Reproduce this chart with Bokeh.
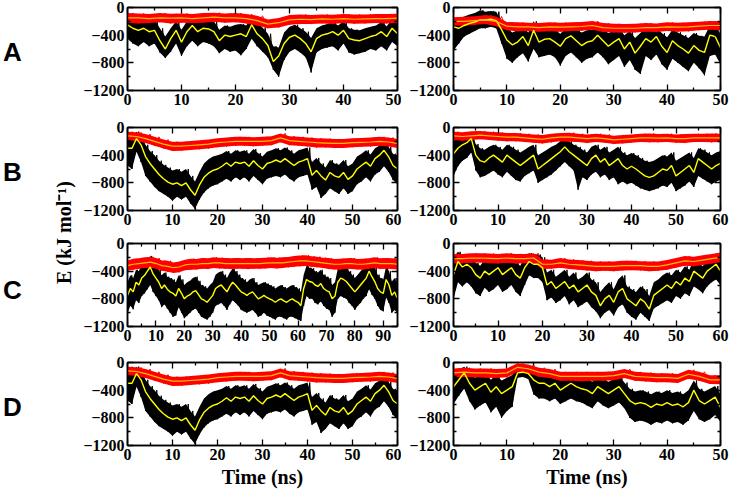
import numpy as np
from bokeh.plotting import figure
from bokeh.layouts import row, column
from bokeh.models import FixedTicker, LinearAxis, Range1d, Label
from bokeh.embed import file_html
from bokeh.resources import INLINE

# ---------------------------------------------------------------------------
# Interaction energies (kJ/mol) sampled along each trajectory.
# black_* : envelope of the raw per-frame energy (low / high)
# yellow  : running average of the raw energy
# red_*   : envelope of the second energy term, red_avg its running average
# ---------------------------------------------------------------------------
row_letters = ["A", "B", "C", "D"]
y_ticks = [-1200, -800, -400, 0]
y_minor = [-1000, -600, -200]

# ---- A, left (0-50 ns) ----
a_left_end = 50
a_left_yellow = [-250, -300, -330, -300, -350, -330, -480, -600, -450, -330, -500, -350, -260, -350, -300, -310, -350,
                 -480, -400, -420, -400, -380, -420, -250, -380, -450, -550, -780, -700, -520, -430, -400, -450, -520,
                 -640, -450, -400, -380, -350, -400, -330, -450, -470, -480, -450, -420, -400, -350, -420, -300, -380]
a_left_black_low = [-450, -520, -560, -500, -560, -520, -650, -730, -640, -520, -700, -560, -480, -560, -500, -520, -560,
                    -660, -600, -640, -620, -690, -600, -450, -560, -640, -720, -900, -1000, -760, -640, -600, -650, -720,
                    -940, -650, -600, -580, -560, -620, -520, -650, -680, -660, -640, -600, -620, -560, -620, -500, -560]
a_left_black_high = [-100, -160, -180, -150, -200, -180, -300, -420, -300, -200, -320, -200, -120, -200, -170, -180, -200,
                     -320, -260, -280, -250, -240, -260, -130, -230, -290, -380, -560, -580, -360, -280, -250, -300, -350,
                     -440, -300, -260, -240, -210, -260, -200, -300, -320, -330, -300, -280, -260, -210, -270, -170, -240]
a_left_red_avg = [-150, -150, -160, -150, -155, -150, -160, -150, -140, -150, -150, -160, -190, -240, -220, -180, -170,
                  -175, -165, -170, -160, -170, -165, -160, -160, -155]
a_left_red_low = [-220, -230, -225, -215, -230, -220, -225, -220, -205, -220, -215, -230, -260, -300, -290, -250, -240,
                  -240, -230, -240, -225, -235, -230, -225, -230, -220]
a_left_red_high = [-80, -85, -95, -80, -90, -85, -95, -80, -75, -85, -80, -95, -120, -175, -150, -110, -100, -110, -100,
                   -105, -95, -100, -100, -95, -95, -90]

# ---- A, right (0-50 ns) ----
a_right_end = 50
a_right_yellow = [-280, -300, -260, -230, -210, -180, -180, -170, -190, -320, -470, -540, -500, -420, -550, -330, -500,
                  -460, -450, -500, -560, -450, -410, -480, -550, -500, -480, -400, -480, -560, -500, -450, -600, -500,
                  -660, -560, -450, -500, -420, -560, -650, -480, -550, -600, -660, -550, -620, -650, -400, -420, -580]
a_right_black_low = [-620, -520, -420, -380, -340, -300, -300, -280, -300, -520, -740, -800, -720, -660, -780, -600, -720,
                     -700, -680, -720, -840, -700, -650, -720, -800, -740, -720, -650, -720, -820, -760, -700, -860, -760,
                     -900, -960, -700, -760, -680, -820, -900, -740, -800, -860, -920, -800, -880, -980, -700, -680, -820]
a_right_black_high = [-150, -160, -130, -100, -80, -40, -60, -50, -60, -200, -300, -360, -330, -280, -360, -200, -330,
                      -300, -300, -330, -380, -300, -280, -320, -360, -330, -320, -280, -320, -370, -340, -300, -400, -340,
                      -440, -370, -300, -340, -290, -370, -430, -320, -360, -400, -440, -370, -410, -420, -260, -280, -380]
a_right_red_avg = [-200, -200, -190, -180, -200, -270, -280, -280, -290, -280, -285, -280, -275, -260, -290, -300, -300,
                   -300, -290, -290, -280, -285, -280, -270, -260, -260]
a_right_red_low = [-260, -265, -250, -240, -270, -330, -345, -340, -350, -345, -350, -340, -335, -320, -355, -360, -365,
                   -360, -350, -355, -340, -350, -345, -330, -320, -325]
a_right_red_high = [-140, -135, -125, -110, -130, -210, -215, -220, -225, -215, -220, -215, -210, -195, -225, -235, -240,
                    -235, -225, -230, -215, -220, -215, -205, -195, -200]

# ---- B, left (0-60 ns); the D-left run shows the same trace ----
b_left_end = 60
b_left_yellow = [-300, -300, -160, -250, -420, -520, -600, -680, -740, -790, -820, -800, -840, -800, -900, -980, -830,
                 -720, -660, -620, -600, -560, -510, -560, -500, -520, -500, -560, -480, -550, -600, -520, -500, -470,
                 -500, -450, -500, -550, -500, -480, -450, -690, -620, -700, -760, -650, -700, -720, -650, -750, -700,
                 -600, -550, -500, -560, -450, -400, -330, -420, -550, -600]
b_left_black_low = [-550, -600, -350, -500, -700, -780, -860, -920, -960, -1000, -1060, -1000, -1040, -1000, -1100,
                    -1180, -1040, -940, -880, -840, -820, -780, -740, -780, -720, -760, -720, -780, -700, -760, -820,
                    -740, -720, -700, -720, -680, -740, -780, -720, -700, -680, -900, -860, -1020, -960, -880, -920,
                    -960, -880, -960, -920, -820, -780, -720, -780, -680, -640, -560, -640, -760, -820]
b_left_black_high = [-120, -150, -60, -120, -250, -340, -400, -480, -540, -580, -620, -600, -640, -600, -700, -780, -640,
                     -520, -460, -420, -400, -380, -340, -380, -330, -350, -330, -380, -310, -370, -420, -350, -330,
                     -300, -330, -290, -330, -380, -330, -310, -290, -500, -440, -520, -580, -470, -520, -540, -470,
                     -560, -520, -420, -380, -330, -390, -300, -260, -200, -280, -380, -420]
b_left_red_avg = [-120, -130, -160, -200, -240, -270, -270, -260, -250, -240, -220, -210, -200, -200, -200, -200, -190,
                  -150, -190, -200, -210, -220, -225, -230, -230, -220, -215, -210, -200, -210, -230]
b_left_red_low = [-180, -195, -225, -265, -305, -340, -335, -325, -315, -305, -285, -275, -265, -265, -270, -265, -255,
                  -215, -255, -265, -275, -290, -290, -295, -295, -285, -280, -275, -265, -275, -295]
b_left_red_high = [-60, -70, -95, -135, -175, -205, -205, -195, -185, -175, -155, -145, -135, -135, -140, -135, -125,
                   -85, -125, -135, -145, -155, -160, -165, -165, -155, -150, -145, -135, -145, -165]

# ---- B, right (0-60 ns) ----
b_right_end = 60
b_right_yellow = [-380, -300, -250, -220, -160, -400, -480, -500, -440, -400, -450, -500, -400, -450, -500, -550, -500,
                  -450, -400, -600, -550, -500, -450, -400, -350, -280, -350, -400, -450, -500, -550, -450, -400, -500,
                  -450, -550, -500, -450, -550, -600, -560, -600, -650, -700, -720, -700, -650, -600, -620, -550, -700,
                  -650, -600, -550, -650, -450, -500, -550, -600, -550, -520]
b_right_black_low = [-700, -560, -480, -440, -360, -620, -720, -700, -660, -620, -680, -720, -640, -700, -760, -780,
                     -700, -660, -620, -800, -760, -720, -680, -620, -560, -500, -560, -620, -900, -720, -760, -680,
                     -640, -720, -680, -760, -720, -820, -780, -820, -800, -840, -880, -900, -920, -900, -880, -840,
                     -860, -800, -920, -880, -840, -780, -860, -700, -740, -780, -820, -780, -760]
b_right_black_high = [-200, -150, -120, -100, -80, -240, -300, -320, -280, -250, -280, -320, -250, -280, -320, -360,
                      -320, -280, -250, -400, -360, -320, -280, -250, -200, -160, -200, -250, -280, -320, -360, -280,
                      -250, -320, -280, -360, -320, -280, -360, -400, -370, -400, -440, -480, -500, -480, -440, -400,
                      -420, -360, -480, -440, -400, -360, -440, -300, -320, -360, -400, -360, -340]
b_right_red_avg = [-120, -130, -120, -110, -120, -130, -140, -140, -150, -160, -170, -150, -140, -140, -150, -160, -150,
                   -160, -180, -170, -160, -150, -150, -155, -150, -160, -160, -150, -150, -150, -150]
b_right_red_low = [-180, -190, -180, -170, -180, -190, -200, -200, -210, -220, -230, -215, -200, -205, -210, -225, -210,
                   -220, -240, -230, -220, -210, -215, -215, -210, -220, -225, -210, -210, -215, -210]
b_right_red_high = [-60, -70, -55, -50, -60, -70, -80, -80, -90, -100, -110, -90, -80, -75, -90, -100, -90, -100, -120,
                    -110, -100, -90, -85, -95, -90, -100, -95, -90, -90, -85, -90]

# ---- C, left (0-95 ns) ----
c_left_end = 95
c_left_yellow = [-750, -650, -700, -560, -600, -500, -460, -400, -340, -440, -500, -560, -650, -600, -660, -700, -720,
                 -760, -650, -720, -800, -760, -740, -700, -680, -740, -800, -820, -850, -800, -750, -650, -620, -600,
                 -650, -700, -620, -560, -600, -650, -700, -720, -750, -720, -700, -750, -800, -780, -750, -780, -800,
                 -820, -850, -820, -800, -830, -850, -820, -800, -830, -850, -900, -650, -520, -550, -560, -600, -620,
                 -580, -650, -680, -700, -800, -760, -560, -500, -520, -550, -600, -650, -700, -650, -600, -550, -500,
                 -400, -480, -550, -650, -700, -720, -520, -600, -750, -700, -800]
c_left_black_low = [-1000, -900, -950, -820, -860, -760, -720, -660, -600, -700, -760, -820, -920, -880, -940, -1000,
                    -1060, -1040, -920, -1000, -1080, -1040, -1000, -960, -940, -1000, -1060, -1080, -1100, -1060, -1000,
                    -900, -880, -860, -900, -960, -880, -820, -860, -900, -960, -980, -1000, -980, -960, -1000, -1060,
                    -1040, -1000, -1040, -1060, -1080, -1100, -1060, -1060, -1080, -1100, -1060, -1060, -1080, -1100,
                    -1120, -900, -760, -800, -800, -860, -880, -840, -900, -940, -960, -1060, -1000, -800, -760, -780,
                    -800, -860, -900, -960, -900, -860, -800, -760, -660, -740, -800, -900, -960, -980, -780, -860,
                    -1000, -960, -1000]
c_left_black_high = [-560, -460, -500, -380, -400, -300, -280, -220, -180, -260, -320, -380, -460, -420, -480, -500,
                     -520, -560, -460, -520, -600, -560, -540, -500, -480, -540, -600, -620, -650, -600, -560, -450,
                     -420, -400, -450, -500, -420, -360, -400, -450, -500, -520, -560, -520, -500, -560, -600, -580,
                     -560, -580, -600, -620, -650, -620, -600, -630, -650, -620, -600, -630, -650, -700, -450, -320,
                     -350, -360, -400, -420, -380, -450, -480, -500, -600, -560, -360, -300, -320, -350, -400, -450,
                     -500, -450, -400, -350, -300, -220, -290, -350, -450, -500, -520, -330, -400, -550, -500, -600]
c_left_red_avg = [-320, -300, -290, -280, -270, -290, -320, -330, -350, -340, -310, -300, -300, -290, -290, -280, -280,
                  -290, -290, -290, -290, -290, -290, -290, -285, -280, -280, -280, -270, -260, -250, -250, -260, -270,
                  -280, -290, -300, -300, -290, -290, -300, -300, -290, -280, -290, -290, -290, -300]
c_left_red_low = [-395, -380, -365, -355, -350, -365, -395, -410, -425, -415, -385, -380, -375, -365, -370, -355, -360,
                  -365, -370, -365, -365, -370, -365, -365, -360, -355, -360, -355, -345, -335, -330, -325, -335, -345,
                  -355, -370, -375, -380, -365, -370, -375, -380, -365, -355, -370, -365, -370, -375]
c_left_red_high = [-245, -220, -215, -200, -195, -210, -245, -250, -275, -260, -235, -220, -225, -210, -215, -200, -205,
                   -210, -215, -210, -215, -210, -215, -210, -205, -200, -205, -200, -195, -180, -175, -170, -185, -190,
                   -205, -210, -225, -220, -215, -210, -225, -220, -215, -200, -215, -210, -215, -220]

# ---- C, right (0-60 ns) ----
c_right_end = 60
c_right_yellow = [-450, -260, -340, -300, -350, -450, -500, -400, -450, -400, -350, -450, -400, -350, -450, -500, -350,
                  -260, -300, -300, -350, -600, -550, -650, -600, -550, -650, -600, -700, -650, -600, -700, -750, -900,
                  -800, -750, -850, -700, -650, -800, -850, -900, -800, -850, -950, -750, -700, -650, -600, -650, -550,
                  -600, -500, -550, -400, -450, -500, -400, -350, -300, -400]
c_right_black_low = [-800, -560, -620, -560, -620, -720, -760, -640, -700, -660, -600, -700, -660, -600, -700, -760,
                     -600, -460, -500, -500, -560, -820, -780, -860, -820, -760, -880, -820, -920, -880, -840, -920,
                     -980, -1080, -1000, -960, -1040, -920, -880, -1000, -1060, -1100, -1000, -1060, -1120, -940, -900,
                     -860, -820, -860, -760, -800, -720, -760, -620, -660, -720, -620, -560, -520, -600]
c_right_black_high = [-200, -120, -180, -150, -180, -280, -320, -230, -280, -240, -190, -280, -240, -190, -280, -320,
                      -190, -140, -160, -160, -200, -420, -380, -480, -430, -380, -480, -420, -520, -480, -420, -520,
                      -560, -700, -620, -560, -660, -520, -460, -620, -660, -700, -620, -660, -760, -560, -520, -460,
                      -420, -460, -380, -420, -330, -380, -240, -280, -330, -240, -200, -160, -240]
c_right_red_avg = [-220, -220, -210, -210, -215, -220, -210, -220, -220, -210, -300, -300, -280, -300, -310, -320, -330,
                   -330, -330, -320, -320, -320, -330, -330, -310, -280, -250, -260, -240, -220, -200]
c_right_red_low = [-290, -285, -280, -275, -285, -290, -280, -290, -285, -280, -370, -365, -350, -370, -380, -390, -400,
                   -395, -400, -390, -385, -390, -400, -395, -380, -350, -320, -330, -310, -290, -270]
c_right_red_high = [-150, -150, -140, -140, -145, -150, -140, -150, -150, -140, -230, -235, -210, -230, -240, -250, -260,
                    -260, -260, -250, -250, -255, -260, -260, -240, -210, -180, -190, -170, -150, -130]

# ---- D, right (0-50 ns) ----
d_right_end = 50
d_right_yellow = [-350, -250, -150, -300, -400, -350, -300, -430, -350, -450, -400, -350, -150, -140, -160, -250, -300,
                  -300, -350, -300, -400, -350, -300, -350, -380, -400, -450, -350, -400, -450, -400, -350, -450, -550,
                  -600, -580, -600, -650, -600, -620, -580, -620, -600, -640, -580, -400, -550, -600, -550, -500, -650]
d_right_black_low = [-600, -480, -380, -560, -680, -620, -580, -720, -640, -800, -700, -640, -220, -210, -240, -460, -520,
                     -520, -560, -520, -600, -560, -520, -560, -580, -620, -660, -560, -620, -660, -620, -580, -660,
                     -800, -860, -840, -860, -900, -860, -880, -840, -880, -860, -900, -840, -700, -820, -860, -820,
                     -760, -860]
d_right_black_high = [-150, -100, -60, -140, -220, -180, -150, -250, -180, -260, -220, -180, -50, -40, -60, -100, -140,
                      -150, -190, -150, -240, -190, -150, -190, -220, -240, -280, -190, -240, -280, -240, -190, -290,
                      -380, -420, -400, -420, -460, -420, -440, -400, -440, -420, -460, -400, -260, -380, -420, -380,
                      -340, -460]
d_right_red_avg = [-150, -140, -150, -150, -160, -150, -70, -90, -140, -160, -200, -200, -200, -200, -200, -190, -160,
                   -200, -210, -220, -220, -230, -170, -200, -250, -250]
d_right_red_low = [-215, -205, -215, -220, -225, -215, -135, -155, -205, -225, -265, -265, -270, -265, -265, -255, -225,
                   -265, -275, -285, -285, -295, -235, -265, -310, -315]
d_right_red_high = [-85, -75, -85, -85, -95, -85, -10, -30, -75, -95, -135, -135, -135, -135, -135, -125, -95, -135,
                    -145, -155, -155, -165, -105, -135, -185, -185]

BLACK = "#000000"
YELLOW = "#ffff00"
RED = "#ff0000"
ORANGE = "#ffc000"
SERIF = "Liberation Serif"


def zigzag(t_end, low, high):
    """Alternate between the low and high envelope values to draw a noisy trace."""
    n = len(low)
    t = np.linspace(0, t_end, n)
    dt = t_end / (n - 1)
    xs = np.empty(2 * n)
    ys = np.empty(2 * n)
    xs[0::2] = t
    xs[1::2] = np.minimum(t + dt / 2, t_end)
    ys[0::2] = low
    ys[1::2] = high
    return xs, ys


def style_axis(ax, ticker, labelled):
    ax.ticker = ticker
    ax.axis_line_color = BLACK
    ax.axis_line_width = 1.5
    ax.major_tick_in = 6
    ax.major_tick_out = 0
    ax.minor_tick_in = 3
    ax.minor_tick_out = 0
    ax.major_tick_line_color = BLACK
    ax.minor_tick_line_color = BLACK
    ax.major_tick_line_width = 1.3
    ax.minor_tick_line_width = 1.3
    if labelled:
        ax.major_label_text_font = SERIF
        ax.major_label_text_font_style = "bold"
        ax.major_label_text_font_size = "16px"
        ax.major_label_text_color = BLACK
        ax.major_label_standoff = 3
    else:
        # mirror axis: ticks only, no labels drawn
        ax.major_label_text_color = None
        ax.major_label_text_font_size = "1px"
        ax.major_label_standoff = 0


def panel(t_end, data, top, bottom, left, right, frame_w, xlabel=None):
    black_low, black_high, yellow, red_low, red_high, red_avg = data
    p = figure(frame_width=frame_w, frame_height=83,
               x_range=Range1d(0, t_end), y_range=Range1d(-1200, 0),
               output_backend="svg", toolbar_location=None,
               min_border_top=top, min_border_bottom=bottom,
               min_border_left=left, min_border_right=right)
    p.grid.visible = False
    p.outline_line_color = BLACK
    p.outline_line_width = 1.5
    p.background_fill_color = "white"
    p.border_fill_color = "white"

    bottom_axis = p.xaxis[0]
    left_axis = p.yaxis[0]
    x_ticker = FixedTicker(ticks=list(range(0, t_end + 1, 10)),
                           minor_ticks=list(range(5, t_end + 1, 10)))
    y_ticker = FixedTicker(ticks=y_ticks, minor_ticks=y_minor)
    style_axis(bottom_axis, x_ticker, True)
    style_axis(left_axis, y_ticker, True)
    top_axis = LinearAxis()
    right_axis = LinearAxis()
    style_axis(top_axis, x_ticker, False)
    style_axis(right_axis, y_ticker, False)
    p.add_layout(top_axis, "above")
    p.add_layout(right_axis, "right")

    if xlabel:
        bottom_axis.axis_label = xlabel
        bottom_axis.axis_label_text_font = SERIF
        bottom_axis.axis_label_text_font_style = "bold"
        bottom_axis.axis_label_text_font_size = "20px"
        bottom_axis.axis_label_text_color = BLACK
        bottom_axis.axis_label_standoff = 3

    # raw energy: black envelope plus jagged trace
    tb = np.linspace(0, t_end, len(black_low))
    p.varea(x=tb, y1=black_low, y2=black_high, fill_color=BLACK)
    xs, ys = zigzag(t_end, black_low, black_high)
    p.line(xs, ys, line_color=BLACK, line_width=1)

    # second term: red envelope plus jagged trace
    tr = np.linspace(0, t_end, len(red_low))
    p.varea(x=tr, y1=red_low, y2=red_high, fill_color=RED)
    xs, ys = zigzag(t_end, red_low, red_high)
    p.line(xs, ys, line_color=RED, line_width=1)

    # running averages
    p.line(np.linspace(0, t_end, len(yellow)), yellow, line_color=YELLOW, line_width=1.4)
    p.line(np.linspace(0, t_end, len(red_avg)), red_avg, line_color=ORANGE, line_width=1.2)
    return p


a_left = (a_left_black_low, a_left_black_high, a_left_yellow, a_left_red_low, a_left_red_high, a_left_red_avg)
a_right = (a_right_black_low, a_right_black_high, a_right_yellow, a_right_red_low, a_right_red_high, a_right_red_avg)
b_left = (b_left_black_low, b_left_black_high, b_left_yellow, b_left_red_low, b_left_red_high, b_left_red_avg)
b_right = (b_right_black_low, b_right_black_high, b_right_yellow, b_right_red_low, b_right_red_high, b_right_red_avg)
c_left = (c_left_black_low, c_left_black_high, c_left_yellow, c_left_red_low, c_left_red_high, c_left_red_avg)
c_right = (c_right_black_low, c_right_black_high, c_right_yellow, c_right_red_low, c_right_red_high, c_right_red_avg)
d_right = (d_right_black_low, d_right_black_high, d_right_yellow, d_right_red_low, d_right_red_high, d_right_red_avg)

# (top, bottom) borders of each row
row_borders = [(7, 29), (8, 23), (10, 26), (10, 45)]
rows_spec = [
    ((a_left_end, a_left), (a_right_end, a_right)),
    ((b_left_end, b_left), (b_right_end, b_right)),
    ((c_left_end, c_left), (c_right_end, c_right)),
    ((b_left_end, b_left), (d_right_end, d_right)),
]

panel_rows = []
for i, ((lt, ld), (rt, rd)) in enumerate(rows_spec):
    top, bottom = row_borders[i]
    xlabel = "Time (ns)" if i == 3 else None
    left_p = panel(lt, ld, top, bottom, 43, 4, 270, xlabel)
    right_p = panel(rt, rd, top, bottom, 52, 14, 267, xlabel)
    panel_rows.append(row(left_p, right_p))

# left strip with the row letters and the shared energy label
strip = figure(frame_width=80, frame_height=492, x_range=Range1d(0, 80), y_range=Range1d(492, 0),
               output_backend="svg", toolbar_location=None,
               x_axis_location=None, y_axis_location=None,
               min_border=0, min_border_left=0, min_border_right=0, min_border_top=0, min_border_bottom=0)
strip.grid.visible = False
strip.outline_line_color = None
strip.border_fill_color = "white"
letter_y = [51, 171, 289, 406]
for letter, ly in zip(row_letters, letter_y):
    strip.add_layout(Label(x=12, y=ly, text=letter, text_align="center", text_baseline="middle",
                           text_font="Liberation Sans", text_font_style="bold", text_font_size="26px",
                           text_color=BLACK))
strip.add_layout(Label(x=63, y=232, text="E (kJ mol\u207b\u00b9)", angle=np.pi / 2,
                       text_align="center", text_baseline="middle",
                       text_font=SERIF, text_font_style="bold", text_font_size="20px", text_color=BLACK))

p = row(strip, column(*panel_rows))
open("out.html", "w").write(file_html(p, INLINE))
